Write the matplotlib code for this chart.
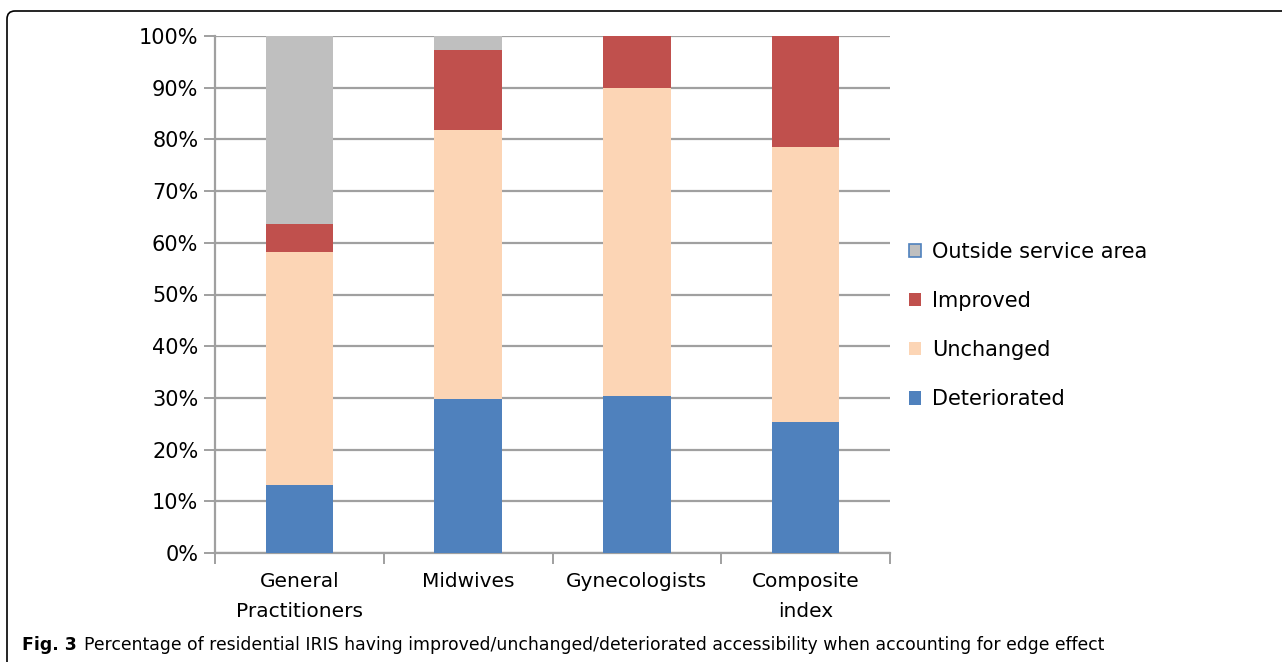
import matplotlib
matplotlib.use("Agg")
from matplotlib import pyplot as plt
from matplotlib.path import Path
from matplotlib.patches import PathPatch, Patch
from matplotlib.ticker import PercentFormatter

# Data (percent of residential IRIS)
categories = ["General\nPractitioners", "Midwives", "Gynecologists", "Composite\nindex"]
deteriorated = [13.1, 29.7, 30.4, 25.4]
unchanged = [45.1, 52.1, 59.6, 53.2]
improved = [5.4, 15.4, 10.0, 21.4]
outside = [36.4, 2.8, 0.0, 0.0]

c_blue = "#4F81BD"
c_peach = "#FCD5B5"
c_red = "#C0504D"
c_gray = "#BFBFBF"
grid_c = "#A0A0A0"

W, H = 1282, 662
fig = plt.figure(figsize=(W / 100, H / 100), dpi=100)
ax = fig.add_axes([215 / W, 1 - 553 / H, 675 / W, 517 / H])

x = list(range(len(categories)))
bw = 0.4
b1 = deteriorated
b2 = [a + b for a, b in zip(b1, unchanged)]
b3 = [a + b for a, b in zip(b2, improved)]
ax.bar(x, deteriorated, bw, color=c_blue, zorder=3)
ax.bar(x, unchanged, bw, bottom=b1, color=c_peach, zorder=3)
ax.bar(x, improved, bw, bottom=b2, color=c_red, zorder=3)
ax.bar(x, outside, bw, bottom=b3, color=c_gray, zorder=3)

ax.set_xlim(-0.5, len(categories) - 0.5)
ax.set_ylim(0, 100)
ax.set_yticks(range(0, 101, 10))
ax.yaxis.set_major_formatter(PercentFormatter(decimals=0))
ax.grid(True, axis="y", color=grid_c, linewidth=1.6, zorder=0)

for s in ["top", "right"]:
    ax.spines[s].set_visible(False)
for s in ["left", "bottom"]:
    ax.spines[s].set_color(grid_c)
    ax.spines[s].set_linewidth(1.6)

# x ticks at category boundaries, labels centred under bars
ax.set_xticks([i - 0.5 for i in range(len(categories) + 1)])
ax.set_xticklabels([])
ax.set_xticks(x, minor=True)
ax.set_xticklabels(categories, minor=True, fontsize=14.5, linespacing=1.7)
ax.tick_params(axis="x", which="minor", length=0, pad=14)
ax.tick_params(axis="x", which="major", length=8, color=grid_c, width=1.4)
ax.tick_params(axis="y", length=8, color=grid_c, width=1.4, labelsize=15, pad=4)

handles = [Patch(facecolor=c_gray, edgecolor=c_blue, linewidth=1.2),
           Patch(facecolor=c_red), Patch(facecolor=c_peach), Patch(facecolor=c_blue)]
labels = ["Outside service area", "Improved", "Unchanged", "Deteriorated"]
ax.legend(handles, labels, loc="center left", bbox_to_anchor=(1.0, 0.44),
          frameon=False, fontsize=15, handlelength=0.6, handleheight=0.6,
          handletextpad=0.5, labelspacing=1.4)

# Caption
cap_font = ["Liberation Sans Narrow", "DejaVu Sans"]
fig.text(22 / W, 1 - 645 / H, "Fig. 3", fontsize=12.4, fontweight="bold",
         va="center", ha="left", family=cap_font)
fig.text(84 / W, 1 - 645 / H,
         "Percentage of residential IRIS having improved/unchanged/deteriorated accessibility when accounting for edge effect",
         fontsize=12.4, va="center", ha="left", family=cap_font)

# Frame with rounded top-left corner
x0, y0, r = 7 / W, 1 - 11 / H, 8
verts = [(x0, 0), (x0, y0 - r / H), (x0, y0), (x0 + r / W, y0), (1, y0)]
codes = [Path.MOVETO, Path.LINETO, Path.CURVE3, Path.CURVE3, Path.LINETO]
fig.add_artist(PathPatch(Path(verts, codes), fill=False, edgecolor="black",
                         linewidth=1.2, transform=fig.transFigure))

fig.savefig("out.png", dpi=100, facecolor="white")
